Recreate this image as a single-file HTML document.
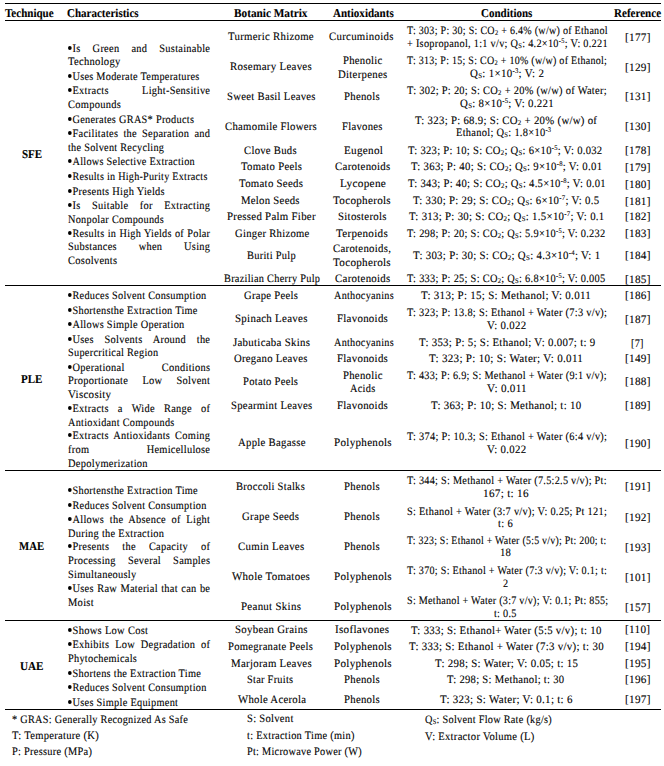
<!DOCTYPE html><html><head><meta charset='utf-8'><style>
html,body{margin:0;padding:0;background:#fff;text-rendering:geometricPrecision;}
body{width:664px;height:766px;position:relative;overflow:hidden;font-family:"Liberation Serif",serif;color:#000;}
.t{position:absolute;white-space:nowrap;font-size:11.3px;line-height:16px;transform-origin:0 0;-webkit-text-stroke:0.1px #000;letter-spacing:0.3px;}
.bl{display:inline-block;width:4.3px;height:4.3px;border-radius:50%;background:#000;position:relative;top:-2px;margin-right:0.6px;}
.b{font-weight:bold;font-size:12.0px;letter-spacing:0;}
.j{text-align:justify;text-align-last:justify;white-space:normal;}
sub{font-size:0.64em;position:relative;top:0.15em;vertical-align:baseline;line-height:0;}
sup{font-size:0.62em;position:relative;top:-0.6em;vertical-align:baseline;line-height:0;}
.r{position:absolute;left:5px;width:656px;height:1px;background:#000;}
</style></head><body>
<div class='r' style='top:3px'></div>
<div class='r' style='top:20px'></div>
<div class='r' style='top:285px'></div>
<div class='r' style='top:470px'></div>
<div class='r' style='top:620px'></div>
<div class='r' style='top:709px'></div>
<div class='t b' style='left:5.00px;top:5.00px;transform:scaleX(0.9189)'>Technique</div>
<div class='t b' style='left:67.20px;top:5.00px;transform:scaleX(0.9179)'>Characteristics</div>
<div class='t b' style='left:233.90px;top:5.00px;transform:scaleX(0.9385)'>Botanic Matrix</div>
<div class='t b' style='left:333.30px;top:5.00px;transform:scaleX(0.9197)'>Antioxidants</div>
<div class='t b' style='left:480.50px;top:5.00px;transform:scaleX(0.9161)'>Conditions</div>
<div class='t b' style='left:613.70px;top:5.00px;transform:scaleX(0.9216)'>Reference</div>
<div class='t b' style='left:22.10px;top:146.00px;transform:scaleX(0.9136)'>SFE</div>
<div class='t b' style='left:21.10px;top:371.00px;transform:scaleX(0.9174)'>PLE</div>
<div class='t b' style='left:19.00px;top:538.00px;transform:scaleX(0.8964)'>MAE</div>
<div class='t b' style='left:20.00px;top:658.00px;transform:scaleX(0.9280)'>UAE</div>
<div class='t j' style='left:68.00px;top:41.00px;width:154.63px;transform:scaleX(0.9200)'><span class='bl'></span>Is Green and Sustainable</div>
<div class='t' style='left:68.00px;top:54.00px;transform:scaleX(0.9357)'>Technology</div>
<div class='t' style='left:68.00px;top:69.00px;transform:scaleX(0.9090)'><span class='bl'></span>Uses Moderate Temperatures</div>
<div class='t j' style='left:68.00px;top:83.00px;width:154.63px;transform:scaleX(0.9200)'><span class='bl'></span>Extracts Light-Sensitive</div>
<div class='t' style='left:68.00px;top:97.00px;transform:scaleX(0.9263)'>Compounds</div>
<div class='t' style='left:68.00px;top:112.00px;transform:scaleX(0.9130)'><span class='bl'></span>Generates GRAS* Products</div>
<div class='t j' style='left:68.00px;top:126.00px;width:154.63px;transform:scaleX(0.9200)'><span class='bl'></span>Facilitates the Separation and</div>
<div class='t' style='left:68.00px;top:140.00px;transform:scaleX(0.9075)'>the Solvent Recycling</div>
<div class='t' style='left:68.00px;top:154.00px;transform:scaleX(0.9086)'><span class='bl'></span>Allows Selective Extraction</div>
<div class='t' style='left:68.00px;top:169.00px;transform:scaleX(0.8968)'><span class='bl'></span>Results in High-Purity Extracts</div>
<div class='t' style='left:68.00px;top:184.00px;transform:scaleX(0.9210)'><span class='bl'></span>Presents High Yields</div>
<div class='t j' style='left:68.00px;top:198.00px;width:154.63px;transform:scaleX(0.9200)'><span class='bl'></span>Is Suitable for Extracting</div>
<div class='t' style='left:68.00px;top:212.00px;transform:scaleX(0.9105)'>Nonpolar Compounds</div>
<div class='t j' style='left:68.00px;top:226.00px;width:157.00px;transform:scaleX(0.9061)'><span class='bl'></span>Results in High Yields of Polar</div>
<div class='t j' style='left:68.00px;top:239.00px;width:154.63px;transform:scaleX(0.9200)'>Substances when Using</div>
<div class='t' style='left:68.00px;top:253.00px;transform:scaleX(0.9283)'>Cosolvents</div>
<div class='t' style='left:68.00px;top:288.00px;transform:scaleX(0.9092)'><span class='bl'></span>Reduces Solvent Consumption</div>
<div class='t' style='left:68.00px;top:303.00px;transform:scaleX(0.9113)'><span class='bl'></span>Shortensthe Extraction Time</div>
<div class='t' style='left:68.00px;top:317.00px;transform:scaleX(0.9157)'><span class='bl'></span>Allows Simple Operation</div>
<div class='t j' style='left:68.00px;top:332.00px;width:154.63px;transform:scaleX(0.9200)'><span class='bl'></span>Uses Solvents Around the</div>
<div class='t' style='left:68.00px;top:345.00px;transform:scaleX(0.9111)'>Supercritical Region</div>
<div class='t j' style='left:68.00px;top:360.00px;width:154.63px;transform:scaleX(0.9200)'><span class='bl'></span>Operational Conditions</div>
<div class='t j' style='left:68.00px;top:373.00px;width:154.63px;transform:scaleX(0.9200)'>Proportionate Low Solvent</div>
<div class='t' style='left:68.00px;top:387.00px;transform:scaleX(0.9705)'>Viscosity</div>
<div class='t j' style='left:68.00px;top:401.00px;width:154.63px;transform:scaleX(0.9200)'><span class='bl'></span>Extracts a Wide Range of</div>
<div class='t' style='left:68.00px;top:415.00px;transform:scaleX(0.9051)'>Antioxidant Compounds</div>
<div class='t j' style='left:68.00px;top:428.00px;width:154.63px;transform:scaleX(0.9200)'><span class='bl'></span>Extracts Antioxidants Coming</div>
<div class='t j' style='left:68.00px;top:442.00px;width:154.63px;transform:scaleX(0.9200)'>from Hemicellulose</div>
<div class='t' style='left:68.00px;top:456.00px;transform:scaleX(0.9244)'>Depolymerization</div>
<div class='t' style='left:68.00px;top:483.00px;transform:scaleX(0.9134)'><span class='bl'></span>Shortensthe Extraction Time</div>
<div class='t' style='left:68.00px;top:498.00px;transform:scaleX(0.9099)'><span class='bl'></span>Reduces Solvent Consumption</div>
<div class='t j' style='left:68.00px;top:512.00px;width:154.63px;transform:scaleX(0.9200)'><span class='bl'></span>Allows the Absence of Light</div>
<div class='t' style='left:68.00px;top:526.00px;transform:scaleX(0.9183)'>During the Extraction</div>
<div class='t j' style='left:68.00px;top:539.00px;width:154.63px;transform:scaleX(0.9200)'><span class='bl'></span>Presents the Capacity of</div>
<div class='t j' style='left:68.00px;top:553.00px;width:154.63px;transform:scaleX(0.9200)'>Processing Several Samples</div>
<div class='t' style='left:68.00px;top:567.00px;transform:scaleX(0.9189)'>Simultaneously</div>
<div class='t j' style='left:68.00px;top:581.00px;width:154.63px;transform:scaleX(0.9200)'><span class='bl'></span>Uses Raw Material that can be</div>
<div class='t' style='left:68.00px;top:595.00px;transform:scaleX(0.9286)'>Moist</div>
<div class='t' style='left:68.00px;top:623.00px;transform:scaleX(0.9302)'><span class='bl'></span>Shows Low Cost</div>
<div class='t j' style='left:68.00px;top:637.00px;width:154.63px;transform:scaleX(0.9200)'><span class='bl'></span>Exhibits Low Degradation of</div>
<div class='t' style='left:68.00px;top:651.00px;transform:scaleX(0.9118)'>Phytochemicals</div>
<div class='t' style='left:68.00px;top:666.00px;transform:scaleX(0.9159)'><span class='bl'></span>Shortens the Extraction Time</div>
<div class='t' style='left:68.00px;top:680.00px;transform:scaleX(0.9099)'><span class='bl'></span>Reduces Solvent Consumption</div>
<div class='t' style='left:68.00px;top:695.00px;transform:scaleX(0.9158)'><span class='bl'></span>Uses Simple Equipment</div>
<div class='t' style='left:228.40px;top:29.00px;transform:scaleX(0.9544)'>Turmeric Rhizome</div>
<div class='t' style='left:230.00px;top:59.00px;transform:scaleX(0.9635)'>Rosemary Leaves</div>
<div class='t' style='left:226.60px;top:89.00px;transform:scaleX(0.9457)'>Sweet Basil Leaves</div>
<div class='t' style='left:225.00px;top:119.00px;transform:scaleX(0.9485)'>Chamomile Flowers</div>
<div class='t' style='left:244.00px;top:143.00px;transform:scaleX(0.9429)'>Clove Buds</div>
<div class='t' style='left:240.50px;top:159.00px;transform:scaleX(0.9462)'>Tomato Peels</div>
<div class='t' style='left:238.70px;top:176.00px;transform:scaleX(0.9567)'>Tomato Seeds</div>
<div class='t' style='left:241.00px;top:193.00px;transform:scaleX(0.9484)'>Melon Seeds</div>
<div class='t' style='left:226.60px;top:209.00px;transform:scaleX(0.9591)'>Pressed Palm Fiber</div>
<div class='t' style='left:234.50px;top:226.00px;transform:scaleX(0.9418)'>Ginger Rhizome</div>
<div class='t' style='left:246.50px;top:248.00px;transform:scaleX(0.9208)'>Buriti Pulp</div>
<div class='t' style='left:223.60px;top:271.00px;transform:scaleX(0.9124)'>Brazilian Cherry Pulp</div>
<div class='t' style='left:244.10px;top:288.00px;transform:scaleX(0.9404)'>Grape Peels</div>
<div class='t' style='left:235.00px;top:311.00px;transform:scaleX(0.9640)'>Spinach Leaves</div>
<div class='t' style='left:232.70px;top:335.00px;transform:scaleX(0.9600)'>Jabuticaba Skins</div>
<div class='t' style='left:234.20px;top:351.00px;transform:scaleX(0.9462)'>Oregano Leaves</div>
<div class='t' style='left:243.20px;top:374.00px;transform:scaleX(0.9339)'>Potato Peels</div>
<div class='t' style='left:230.50px;top:398.00px;transform:scaleX(0.9465)'>Spearmint Leaves</div>
<div class='t' style='left:237.50px;top:435.00px;transform:scaleX(0.9493)'>Apple Bagasse</div>
<div class='t' style='left:236.00px;top:479.00px;transform:scaleX(0.9351)'>Broccoli Stalks</div>
<div class='t' style='left:242.00px;top:509.00px;transform:scaleX(0.9533)'>Grape Seeds</div>
<div class='t' style='left:238.00px;top:539.00px;transform:scaleX(0.9609)'>Cumin Leaves</div>
<div class='t' style='left:232.00px;top:569.00px;transform:scaleX(0.9679)'>Whole Tomatoes</div>
<div class='t' style='left:240.50px;top:599.00px;transform:scaleX(0.9661)'>Peanut Skins</div>
<div class='t' style='left:234.50px;top:622.00px;transform:scaleX(0.9579)'>Soybean Grains</div>
<div class='t' style='left:228.10px;top:639.00px;transform:scaleX(0.9374)'>Pomegranate Peels</div>
<div class='t' style='left:230.50px;top:656.00px;transform:scaleX(0.9583)'>Marjoram Leaves</div>
<div class='t' style='left:247.10px;top:672.00px;transform:scaleX(0.9157)'>Star Fruits</div>
<div class='t' style='left:237.50px;top:692.00px;transform:scaleX(0.9486)'>Whole Acerola</div>
<div class='t' style='left:329.00px;top:29.00px;transform:scaleX(0.9559)'>Curcuminoids</div>
<div class='t' style='left:342.90px;top:53.00px;transform:scaleX(0.9452)'>Phenolic</div>
<div class='t' style='left:337.50px;top:67.00px;transform:scaleX(0.9519)'>Diterpenes</div>
<div class='t' style='left:343.50px;top:89.00px;transform:scaleX(0.9500)'>Phenols</div>
<div class='t' style='left:342.00px;top:119.00px;transform:scaleX(0.9442)'>Flavones</div>
<div class='t' style='left:343.50px;top:143.00px;transform:scaleX(0.9872)'>Eugenol</div>
<div class='t' style='left:334.50px;top:159.00px;transform:scaleX(0.9603)'>Carotenoids</div>
<div class='t' style='left:339.90px;top:176.00px;transform:scaleX(0.9957)'>Lycopene</div>
<div class='t' style='left:333.00px;top:193.00px;transform:scaleX(0.9831)'>Tocopherols</div>
<div class='t' style='left:337.50px;top:209.00px;transform:scaleX(0.9569)'>Sitosterols</div>
<div class='t' style='left:336.00px;top:226.00px;transform:scaleX(0.9811)'>Terpenoids</div>
<div class='t' style='left:333.30px;top:241.00px;transform:scaleX(0.9525)'>Carotenoids,</div>
<div class='t' style='left:333.00px;top:255.00px;transform:scaleX(0.9831)'>Tocopherols</div>
<div class='t' style='left:334.50px;top:271.00px;transform:scaleX(0.9603)'>Carotenoids</div>
<div class='t' style='left:333.60px;top:288.00px;transform:scaleX(0.9030)'>Anthocyanins</div>
<div class='t' style='left:336.90px;top:311.00px;transform:scaleX(0.9604)'>Flavonoids</div>
<div class='t' style='left:333.60px;top:335.00px;transform:scaleX(0.9030)'>Anthocyanins</div>
<div class='t' style='left:336.90px;top:351.00px;transform:scaleX(0.9604)'>Flavonoids</div>
<div class='t' style='left:342.90px;top:368.00px;transform:scaleX(0.9476)'>Phenolic</div>
<div class='t' style='left:349.50px;top:381.00px;transform:scaleX(0.9143)'>Acids</div>
<div class='t' style='left:336.90px;top:398.00px;transform:scaleX(0.9604)'>Flavonoids</div>
<div class='t' style='left:333.90px;top:435.00px;transform:scaleX(0.9797)'>Polyphenols</div>
<div class='t' style='left:343.50px;top:479.00px;transform:scaleX(0.9500)'>Phenols</div>
<div class='t' style='left:343.50px;top:509.00px;transform:scaleX(0.9500)'>Phenols</div>
<div class='t' style='left:343.50px;top:539.00px;transform:scaleX(0.9500)'>Phenols</div>
<div class='t' style='left:333.90px;top:569.00px;transform:scaleX(0.9797)'>Polyphenols</div>
<div class='t' style='left:333.90px;top:599.00px;transform:scaleX(0.9797)'>Polyphenols</div>
<div class='t' style='left:335.40px;top:622.00px;transform:scaleX(0.9800)'>Isoflavones</div>
<div class='t' style='left:333.90px;top:639.00px;transform:scaleX(0.9797)'>Polyphenols</div>
<div class='t' style='left:333.90px;top:656.00px;transform:scaleX(0.9797)'>Polyphenols</div>
<div class='t' style='left:343.50px;top:672.00px;transform:scaleX(0.9500)'>Phenols</div>
<div class='t' style='left:343.50px;top:692.00px;transform:scaleX(0.9500)'>Phenols</div>
<div class='t' style='left:407.20px;top:23.00px;transform:scaleX(0.8911)'>T: 303; P: 30; S: CO<sub>2</sub> + 6.4% (w/w) of Ethanol</div>
<div class='t' style='left:407.00px;top:36.00px;transform:scaleX(0.9110)'>+ Isopropanol, 1:1 v/v; Q<sub>S</sub>: 4.2×10<sup>-5</sup>; V: 0.221</div>
<div class='t' style='left:407.00px;top:53.00px;transform:scaleX(0.8867)'>T: 313; P: 15; S: CO<sub>2</sub> + 10% (w/w) of Ethanol;</div>
<div class='t' style='left:469.60px;top:66.00px;transform:scaleX(0.9658)'>Q<sub>S</sub>: 1×10<sup>-3</sup>; V: 2</div>
<div class='t' style='left:407.00px;top:83.00px;transform:scaleX(0.9236)'>T: 302; P: 20; S: CO<sub>2</sub> + 20% (w/w) of Water;</div>
<div class='t' style='left:459.80px;top:96.00px;transform:scaleX(0.9608)'>Q<sub>S</sub>: 8×10<sup>-5</sup>; V: 0.221</div>
<div class='t' style='left:415.30px;top:113.00px;transform:scaleX(0.9545)'>T: 323; P: 68.9; S: CO<sub>2</sub> + 20% (w/w) of</div>
<div class='t' style='left:455.80px;top:125.00px;transform:scaleX(0.9243)'>Ethanol; Q<sub>S</sub>: 1.8×10<sup>-3</sup></div>
<div class='t' style='left:408.00px;top:143.00px;transform:scaleX(0.9396)'>T: 323; P: 10; S: CO<sub>2</sub>; Q<sub>S</sub>: 6×10<sup>-5</sup>; V: 0.032</div>
<div class='t' style='left:411.20px;top:159.00px;transform:scaleX(0.9520)'>T: 363; P: 40; S: CO<sub>2</sub>; Q<sub>S</sub>: 9×10<sup>-8</sup>; V: 0.01</div>
<div class='t' style='left:408.00px;top:176.00px;transform:scaleX(0.9421)'>T: 343; P: 40; S: CO<sub>2</sub>; Q<sub>S</sub>: 4.5×10<sup>-8</sup>; V: 0.01</div>
<div class='t' style='left:413.20px;top:193.00px;transform:scaleX(0.9559)'>T: 330; P: 29; S: CO<sub>2</sub>; Q<sub>S</sub>: 6×10<sup>-7</sup>; V: 0.5</div>
<div class='t' style='left:409.20px;top:209.00px;transform:scaleX(0.9581)'>T: 313; P: 30; S: CO<sub>2</sub>; Q<sub>S</sub>: 1.5×10<sup>-7</sup>; V: 0.1</div>
<div class='t' style='left:407.20px;top:226.00px;transform:scaleX(0.9190)'>T: 298; P: 20; S: CO<sub>2</sub>; Q<sub>S</sub>: 5.9×10<sup>-5</sup>; V: 0.232</div>
<div class='t' style='left:413.20px;top:248.00px;transform:scaleX(0.9608)'>T: 303; P: 30; S: CO<sub>2</sub>; Q<sub>S</sub>: 4.3×10<sup>-4</sup>; V: 1</div>
<div class='t' style='left:407.20px;top:271.00px;transform:scaleX(0.9190)'>T: 333; P: 25; S: CO<sub>2</sub>; Q<sub>S</sub>: 6.8×10<sup>-5</sup>; V: 0.005</div>
<div class='t' style='left:421.30px;top:288.00px;transform:scaleX(0.9713)'>T: 313; P: 15; S: Methanol; V: 0.011</div>
<div class='t' style='left:407.20px;top:305.00px;transform:scaleX(0.9184)'>T: 323; P: 13.8; S: Ethanol + Water (7:3 v/v);</div>
<div class='t' style='left:487.40px;top:318.00px;transform:scaleX(0.9585)'>V: 0.022</div>
<div class='t' style='left:418.50px;top:335.00px;transform:scaleX(0.9612)'>T: 353; P: 5; S: Ethanol; V: 0.007; t: 9</div>
<div class='t' style='left:429.40px;top:351.00px;transform:scaleX(0.9795)'>T: 323; P: 10; S: Water; V: 0.011</div>
<div class='t' style='left:407.20px;top:368.00px;transform:scaleX(0.9059)'>T: 433; P: 6.9; S: Methanol + Water (9:1 v/v);</div>
<div class='t' style='left:487.40px;top:381.00px;transform:scaleX(0.9825)'>V: 0.011</div>
<div class='t' style='left:430.70px;top:398.00px;transform:scaleX(0.9609)'>T: 363; P: 10; S: Methanol; t: 10</div>
<div class='t' style='left:407.20px;top:429.00px;transform:scaleX(0.9184)'>T: 374; P: 10.3; S: Ethanol + Water (6:4 v/v);</div>
<div class='t' style='left:487.40px;top:442.00px;transform:scaleX(0.9585)'>V: 0.022</div>
<div class='t' style='left:407.20px;top:473.00px;transform:scaleX(0.9059)'>T: 344; S: Methanol + Water (7.5:2.5 v/v); Pt:</div>
<div class='t' style='left:483.11px;top:486.00px;transform:scaleX(0.9911)'>167; t: 16</div>
<div class='t' style='left:407.20px;top:504.00px;transform:scaleX(0.9142)'>S: Ethanol + Water (3:7 v/v); V: 0.25; Pt 121;</div>
<div class='t' style='left:498.30px;top:516.00px;transform:scaleX(0.9375)'>t: 6</div>
<div class='t' style='left:407.20px;top:533.00px;transform:scaleX(0.8741)'>T: 323; S: Ethanol + Water (5:5 v/v); Pt: 200; t:</div>
<div class='t' style='left:499.95px;top:545.00px;transform:scaleX(0.9455)'>18</div>
<div class='t' style='left:407.20px;top:563.00px;transform:scaleX(0.8977)'>T: 370; S: Ethanol + Water (7:3 v/v); V: 0.1; t:</div>
<div class='t' style='left:503.20px;top:576.00px;transform:scaleX(0.9000)'>2</div>
<div class='t' style='left:407.00px;top:593.00px;transform:scaleX(0.8960)'>S: Methanol + Water (3:7 v/v); V: 0.1; Pt: 855;</div>
<div class='t' style='left:494.10px;top:606.00px;transform:scaleX(0.9080)'>t: 0.5</div>
<div class='t' style='left:411.20px;top:623.00px;transform:scaleX(0.9568)'>T: 333; S: Ethanol+ Water (5:5 v/v); t: 10</div>
<div class='t' style='left:409.20px;top:639.00px;transform:scaleX(0.9629)'>T: 333; S: Ethanol + Water (7:3 v/v); t: 30</div>
<div class='t' style='left:434.70px;top:656.00px;transform:scaleX(0.9635)'>T: 298; S: Water; V: 0.05; t: 15</div>
<div class='t' style='left:446.90px;top:672.00px;transform:scaleX(0.9400)'>T: 298; S: Methanol; t: 30</div>
<div class='t' style='left:439.60px;top:692.00px;transform:scaleX(0.9701)'>T: 323; S: Water; V: 0.1; t: 6</div>
<div class='t' style='left:624.70px;top:30.00px;transform:scaleX(0.9920)'>[177]</div>
<div class='t' style='left:624.70px;top:60.00px;transform:scaleX(0.9920)'>[129]</div>
<div class='t' style='left:624.70px;top:89.00px;transform:scaleX(0.9920)'>[131]</div>
<div class='t' style='left:624.70px;top:119.00px;transform:scaleX(0.9920)'>[130]</div>
<div class='t' style='left:624.70px;top:143.00px;transform:scaleX(0.9920)'>[178]</div>
<div class='t' style='left:624.70px;top:160.00px;transform:scaleX(0.9920)'>[179]</div>
<div class='t' style='left:624.70px;top:177.00px;transform:scaleX(0.9920)'>[180]</div>
<div class='t' style='left:624.70px;top:194.00px;transform:scaleX(0.9920)'>[181]</div>
<div class='t' style='left:624.70px;top:209.00px;transform:scaleX(0.9920)'>[182]</div>
<div class='t' style='left:624.70px;top:226.00px;transform:scaleX(0.9920)'>[183]</div>
<div class='t' style='left:624.70px;top:248.00px;transform:scaleX(0.9920)'>[184]</div>
<div class='t' style='left:624.70px;top:272.00px;transform:scaleX(0.9920)'>[185]</div>
<div class='t' style='left:624.70px;top:288.00px;transform:scaleX(0.9920)'>[186]</div>
<div class='t' style='left:624.70px;top:312.00px;transform:scaleX(0.9920)'>[187]</div>
<div class='t' style='left:631.20px;top:336.00px;transform:scaleX(0.9077)'>[7]</div>
<div class='t' style='left:624.70px;top:351.00px;transform:scaleX(0.9920)'>[149]</div>
<div class='t' style='left:624.70px;top:374.00px;transform:scaleX(0.9920)'>[188]</div>
<div class='t' style='left:624.70px;top:398.00px;transform:scaleX(0.9920)'>[189]</div>
<div class='t' style='left:624.70px;top:436.00px;transform:scaleX(0.9920)'>[190]</div>
<div class='t' style='left:624.70px;top:479.00px;transform:scaleX(0.9920)'>[191]</div>
<div class='t' style='left:624.70px;top:510.00px;transform:scaleX(0.9920)'>[192]</div>
<div class='t' style='left:624.70px;top:540.00px;transform:scaleX(0.9920)'>[193]</div>
<div class='t' style='left:624.70px;top:570.00px;transform:scaleX(0.9920)'>[101]</div>
<div class='t' style='left:624.70px;top:600.00px;transform:scaleX(0.9920)'>[157]</div>
<div class='t' style='left:624.70px;top:622.00px;transform:scaleX(0.9920)'>[110]</div>
<div class='t' style='left:624.70px;top:639.00px;transform:scaleX(0.9920)'>[194]</div>
<div class='t' style='left:624.70px;top:656.00px;transform:scaleX(0.9920)'>[195]</div>
<div class='t' style='left:624.70px;top:672.00px;transform:scaleX(0.9920)'>[196]</div>
<div class='t' style='left:624.70px;top:692.00px;transform:scaleX(0.9920)'>[197]</div>
<div class='t' style='left:12.30px;top:712.00px;transform:scaleX(0.9093)'>* GRAS: Generally Recognized As Safe</div>
<div class='t' style='left:12.30px;top:728.00px;transform:scaleX(0.9366)'>T: Temperature (K)</div>
<div class='t' style='left:12.30px;top:744.00px;transform:scaleX(0.9184)'>P: Pressure (MPa)</div>
<div class='t' style='left:246.50px;top:711.00px;transform:scaleX(0.9367)'>S: Solvent</div>
<div class='t' style='left:246.50px;top:728.00px;transform:scaleX(0.9171)'>t: Extraction Time (min)</div>
<div class='t' style='left:246.50px;top:744.00px;transform:scaleX(0.9087)'>Pt: Microwave Power (W)</div>
<div class='t' style='left:425.00px;top:712.00px;transform:scaleX(0.9079)'>Q<sub>S</sub>: Solvent Flow Rate (kg/s)</div>
<div class='t' style='left:425.00px;top:729.00px;transform:scaleX(0.9368)'>V: Extractor Volume (L)</div>
</body></html>
